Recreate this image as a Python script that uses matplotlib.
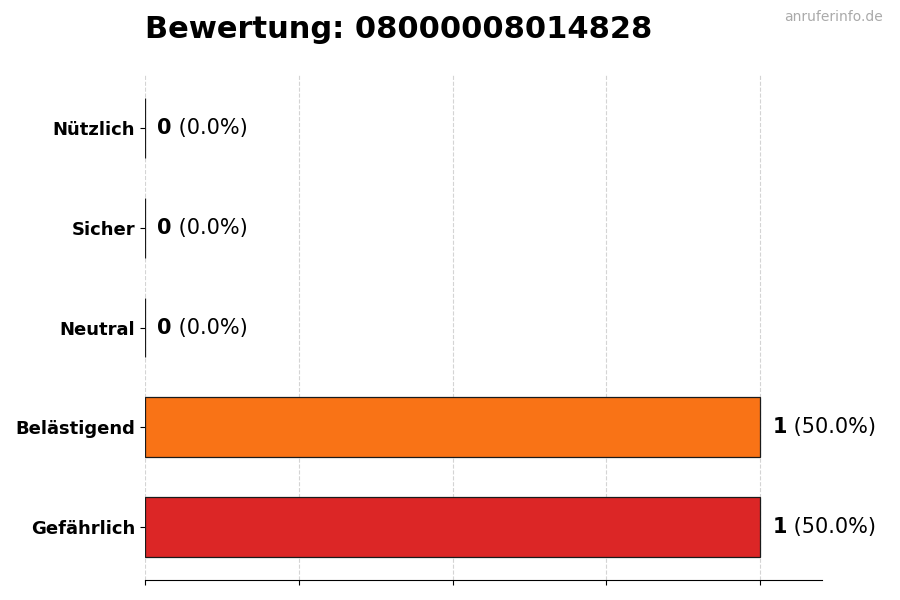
import matplotlib
matplotlib.use("Agg")
import matplotlib.pyplot as plt

categories = ["Gefährlich", "Belästigend", "Neutral", "Sicher", "Nützlich"]
counts = [1, 1, 0, 0, 0]
colors = ["#dc2626", "#f97316", "#9ca3af", "#22c55e", "#3b82f6"]
title = "Bewertung: 08000008014828"

total = sum(counts)
max_val = max(counts)

fig = plt.figure(figsize=(9, 6), dpi=100)
ax = fig.add_axes([0.161, 0.0333, 0.752, 0.8417])

ax.barh(categories, counts, height=0.6, color=colors, edgecolor="#1a1a1a", linewidth=0.9)

ax.set_xlim(0, max_val * 1.1)
ax.set_xticks([0, 0.25, 0.5, 0.75, 1.0])
ax.set_xticklabels([])
ax.grid(axis="x", linestyle="--", color="#d4d4d4", linewidth=0.8)
ax.set_axisbelow(True)
for side in ["top", "right", "left"]:
    ax.spines[side].set_visible(False)

for lbl in ax.get_yticklabels():
    lbl.set_fontweight("bold")
    lbl.set_fontsize(13)

# value labels: bold count, then percentage
for i, v in enumerate(counts):
    pct = v / total * 100 if total else 0
    t = ax.text(v + max_val * 0.02, i, str(v), va="center", ha="left",
                fontsize=15, fontweight="bold")
    ax.annotate(f" ({pct:.1f}%)", xy=(1, 0.5), xycoords=t, va="center", ha="left",
                fontsize=15)

fig.text(0.161, 0.95, title, fontsize=22, fontweight="bold", ha="left", va="center")
fig.text(0.981, 0.972, "anruferinfo.de", fontsize=10, color="#aaaaaa", ha="right", va="center")

fig.savefig("out.png", dpi=100)
